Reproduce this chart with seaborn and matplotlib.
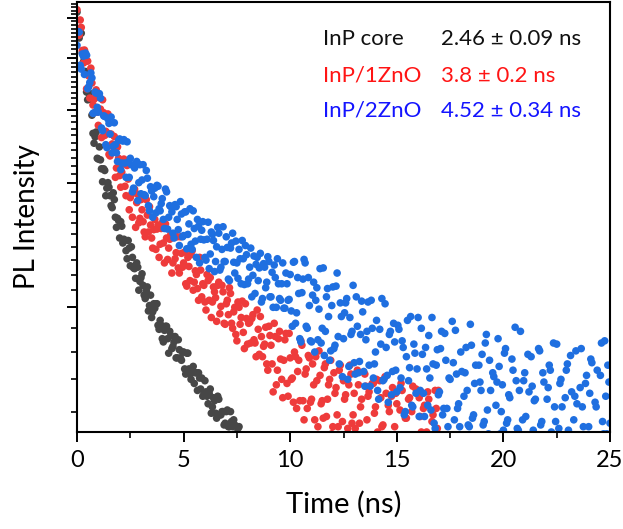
import numpy as np
import pandas as pd
import matplotlib
matplotlib.use("Agg")
import matplotlib.pyplot as plt
import seaborn as sns
from matplotlib.ticker import FixedLocator, NullFormatter

# ---------------- data: PL decay counts, 0.1 ns bins ----------------
# "_a" arrays sit at the bin starts (0.0, 0.1, ...), "_b" arrays at the bin centres (0.05, 0.15, ...)
BIN_NS = 0.1

core_a = [5160, 4470, 4590, 3910, 3710, 3170, 3220, 2910, 2490, 2650,
          2280, 2270, 2010, 2140, 1940, 1950, 1760, 1890, 1650, 1640,
          1470, 1570, 1460, 1370, 1450, 1260, 1320, 1240, 1280, 1100,
          1180, 1130, 1050, 1120, 1010, 945, 1020, 1020, 905, 930,
          840, 880, 900, 775, 855, 805, 850, 755, 790, 745,
          780, 690, 775, 690, 705, 655, 695, 695, 635, 610,
          665, 610, 620, 555, 605, 555, 610, 550, 560, 520,
          560, 515, 560, 515, 520, 485, 515]
core_b = [4690, 4720, 4120, 3980, 3310, 3300, 3180, 2630, 2580, 2290,
          2440, 2160, 2160, 1860, 2000, 1860, 1740, 1820, 1560, 1620,
          1610, 1430, 1450, 1310, 1390, 1400, 1245, 1175, 1250, 1155,
          1205, 1070, 1095, 980, 1070, 975, 995, 1020, 885, 905,
          825, 900, 840, 875, 795, 825, 755, 835, 755, 780,
          710, 775, 710, 670, 720, 695, 630, 675, 675, 615,
          625, 585, 635, 575, 595, 540, 600, 550, 560, 525,
          565, 515, 530, 535, 495, 510]

zno1_a = [5230, 4540, 4740, 3890, 3920, 3930, 3200, 3480, 3180, 3350,
          2750, 3010, 3170, 2600, 2640, 2340, 2620, 2440, 2060, 2440,
          2080, 2120, 2280, 1860, 2040, 1840, 1650, 1930, 1790, 1600,
          1820, 1610, 1480, 1670, 1750, 1470, 1540, 1380, 1580, 1420,
          1600, 1280, 1470, 1390, 1500, 1280, 1310, 1480, 1210, 1350,
          1280, 1140, 1320, 1160, 1370, 1150, 1200, 1040, 1230, 1140,
          1030, 1200, 1040, 945, 1120, 1055, 1130, 965, 1130, 915,
          1020, 960, 1080, 890, 1000, 830, 1000, 945, 870, 1020,
          815, 920, 940, 835, 760, 885, 950, 760, 815, 730,
          900, 810, 625, 850, 705, 875, 670, 745, 865, 610,
          755, 675, 780, 570, 745, 830, 595, 690, 570, 755,
          600, 650, 760, 515, 685, 595, 715, 545, 650, 745,
          515, 620, 550, 705, 490, 665, 615, 510, 725, 525,
          620, 480, 650, 575, 490, 690, 535, 625, 455, 655,
          575, 500, 665, 515, 465, 620, 580, 445, 640, 515,
          585, 465, 655, 480, 540, 445, 605, 560, 460, 635,
          480, 545, 440, 580, 500, 600, 425, 550, 630, 510,
          455]
zno1_b = [4560, 4940, 4170, 4180, 3370, 3620, 3780, 3080, 3220, 2960,
          3210, 2570, 2950, 2660, 2930, 2320, 2480, 2585, 2170, 2290,
          1950, 2220, 1960, 2200, 1720, 1870, 1920, 1560, 1875, 1640,
          1720, 1520, 1820, 1520, 1580, 1390, 1630, 1545, 1320, 1550,
          1430, 1590, 1305, 1460, 1210, 1480, 1355, 1245, 1480, 1250,
          1360, 1125, 1255, 1340, 1100, 1225, 1110, 1320, 1060, 1130,
          985, 1160, 1180, 1030, 1090, 925, 1150, 1005, 1090, 910,
          1040, 1115, 915, 975, 860, 1030, 910, 1035, 795, 940,
          915, 820, 960, 820, 985, 770, 850, 805, 895, 705,
          855, 730, 915, 650, 840, 750, 605, 835, 655, 865,
          670, 590, 760, 700, 595, 810, 535, 710, 765, 590,
          730, 535, 665, 785, 585, 540, 730, 600, 670, 495,
          695, 640, 515, 725, 530, 600, 485, 650, 690, 550,
          510, 705, 525, 600, 480, 645, 610, 455, 655, 555,
          670, 485, 605, 520, 680, 465, 560, 610, 440, 620,
          485, 565, 630, 440, 540, 600, 450, 645, 490, 460,
          605, 500, 570, 435, 625, 470, 530, 415, 570, 630]

zno2_a = [4290, 4620, 3760, 4040, 4110, 3370, 3490, 3580, 2950, 3290,
          2960, 3200, 2670, 2890, 2430, 2780, 2880, 2450, 2470, 2250,
          2550, 2230, 2540, 2060, 2240, 2290, 1900, 2170, 2250, 2000,
          1880, 2210, 1860, 2050, 1710, 1910, 1850, 1690, 1960, 1710,
          1830, 1550, 1900, 1650, 1750, 1510, 1770, 1630, 1410, 1680,
          1490, 1700, 1500, 1730, 1380, 1550, 1320, 1570, 1460, 1610,
          1320, 1460, 1240, 1520, 1450, 1290, 1560, 1230, 1380, 1290,
          1480, 1170, 1390, 1510, 1210, 1280, 1380, 1140, 1310, 1410,
          1140, 1250, 1060, 1330, 1270, 1160, 1350, 1050, 1250, 1150,
          1290, 1060, 1000, 1180, 1310, 1050, 1140, 995, 1210, 1040,
          1200, 900, 1290, 970, 1080, 825, 1170, 1280, 890, 1010,
          825, 1150, 1040, 835, 1240, 890, 765, 1060, 950, 785,
          1120, 810, 1210, 730, 950, 840, 1025, 670, 945, 875,
          735, 1060, 695, 860, 975, 645, 875, 725, 1040, 675,
          780, 630, 885, 1050, 670, 800, 590, 875, 700, 825,
          625, 885, 675, 800, 560, 930, 715, 580, 815, 620,
          945, 630, 770, 545, 710, 855, 565, 730, 510, 790,
          625, 875, 570, 745, 515, 670, 925, 535, 690, 585,
          780, 490, 695, 630, 515, 810, 550, 725, 465, 660,
          770, 530, 860, 495, 630, 695, 465, 660, 720, 560,
          505, 795, 535, 605, 750, 475, 665, 505, 875, 535,
          695, 460, 625, 760, 505, 600, 470, 785, 530, 660,
          445, 640, 705, 490, 575, 815, 510, 670, 455, 605,
          730, 475, 625, 535, 785, 455, 640, 575, 430, 685,
          515, 750, 485, 590, 705, 465, 820, 495, 610, 725, 525]
zno2_b = [4630, 3840, 4090, 3650, 4060, 3410, 3680, 2940, 3310, 3040,
          3280, 2710, 2900, 2470, 2850, 2620, 2360, 2790, 2360, 2530,
          2150, 2520, 2230, 2510, 2060, 2210, 1940, 2220, 1810, 2210,
          2030, 1870, 2140, 1760, 1955, 1650, 1940, 1970, 1730, 1780,
          1630, 1930, 1545, 1760, 1700, 1470, 1750, 1540, 1800, 1480,
          1700, 1385, 1590, 1420, 1710, 1445, 1630, 1280, 1535, 1455,
          1300, 1605, 1345, 1500, 1220, 1400, 1510, 1250, 1565, 1290,
          1395, 1160, 1430, 1285, 1445, 1175, 1310, 1450, 1135, 1340,
          1170, 1390, 1195, 1080, 1320, 1245, 1030, 1275, 1115, 1325,
          1060, 1215, 1265, 1000, 1140, 1040, 1280, 995, 1140, 1045,
          980, 1285, 915, 1180, 840, 1085, 1305, 900, 1180, 830,
          1070, 780, 1115, 990, 820, 1245, 875, 1110, 745, 1010,
          795, 1125, 850, 1025, 680, 970, 1050, 720, 860, 1130,
          690, 900, 740, 1035, 700, 835, 1030, 645, 890, 730,
          930, 600, 815, 665, 1020, 685, 860, 615, 915, 705,
          905, 640, 830, 550, 760, 665, 950, 575, 775, 710,
          545, 890, 620, 800, 580, 675, 945, 525, 725, 615,
          795, 550, 865, 570, 675, 490, 735, 880, 570, 515,
          700, 610, 800, 520, 910, 540, 655, 485, 725, 630,
          520, 820, 565, 745, 460, 680, 580, 840, 495, 650,
          775, 525, 615, 475, 705, 895, 510, 630, 455, 665,
          545, 770, 475, 645, 595, 490, 795, 520, 695, 455,
          600, 725, 500, 820, 530, 460, 655, 575, 435, 705,
          505, 765, 480, 610, 585, 465, 795, 515, 655, 440,
          620, 735, 485, 575, 450, 685, 530, 830, 495, 660]

samples = ["InP core", "InP/1ZnO", "InP/2ZnO"]
lifetimes = ["2.46 \u00b1 0.09 ns", "3.8 \u00b1 0.2 ns", "4.52 \u00b1 0.34 ns"]
marker_colors = ["#474747", "#ee3b3b", "#1f6fe0"]
text_colors = ["#111111", "#ff1414", "#1414ff"]
x_ticks = [0, 5, 10, 15, 20, 25]

# ---------------- long-form table ----------------
frames = []
for name, a, b in zip(samples, [core_a, zno1_a, zno2_a], [core_b, zno1_b, zno2_b]):
    frames.append(pd.DataFrame({"Time (ns)": np.arange(len(a)) * BIN_NS,
                                "PL": a, "Sample": name}))
    frames.append(pd.DataFrame({"Time (ns)": (np.arange(len(b)) + 0.5) * BIN_NS,
                                "PL": b, "Sample": name}))
df = pd.concat(frames, ignore_index=True)

# ---------------- plot ----------------
sns.set_theme(style="ticks")
plt.rcParams["font.family"] = ["Lato", "DejaVu Sans"]

fig = plt.figure(figsize=(6.23, 5.29), dpi=100)
ax = fig.add_axes([77 / 623, (529 - 432) / 529, 533 / 623, 430 / 529])

sns.scatterplot(data=df, x="Time (ns)", y="PL", hue="Sample",
                hue_order=samples, palette=dict(zip(samples, marker_colors)),
                s=30, linewidth=0, alpha=1.0, legend=False, ax=ax)

ax.set_yscale("log")
ax.set_xlim(0, 25)
ax.set_ylim(500, 5460)

major_y = [1000, 2000, 3000, 4000, 5000]
minor_y = [560, 670, 780, 890] + [v for v in range(1100, 5500, 100) if v % 1000 != 0]
ax.yaxis.set_major_locator(FixedLocator(major_y))
ax.yaxis.set_minor_locator(FixedLocator(minor_y))
ax.yaxis.set_major_formatter(NullFormatter())
ax.yaxis.set_minor_formatter(NullFormatter())

ax.xaxis.set_major_locator(FixedLocator(x_ticks))
ax.xaxis.set_minor_locator(FixedLocator([2.5, 7.5, 12.5, 17.5, 22.5]))

ax.tick_params(axis="both", which="major", direction="out", length=7, width=1.4,
               color="black", labelsize=17, labelcolor="black", pad=6)
ax.tick_params(axis="both", which="minor", direction="out", length=4, width=1.2,
               color="black")
for sp in ax.spines.values():
    sp.set_linewidth(1.5)
    sp.set_color("black")

ax.set_xlabel("Time (ns)", fontsize=21, labelpad=14, color="black")
ax.set_ylabel("PL Intensity", fontsize=20, labelpad=14, color="black")

rows_y = [0.900, 0.814, 0.733]
for name, lt, col, yy in zip(samples, lifetimes, text_colors, rows_y):
    ax.text(0.4615, yy, name, transform=ax.transAxes, fontsize=16,
            color=col, va="baseline", ha="left")
    ax.text(0.683, yy, lt, transform=ax.transAxes, fontsize=16,
            color=col, va="baseline", ha="left")

fig.savefig("out.png", dpi=100)
